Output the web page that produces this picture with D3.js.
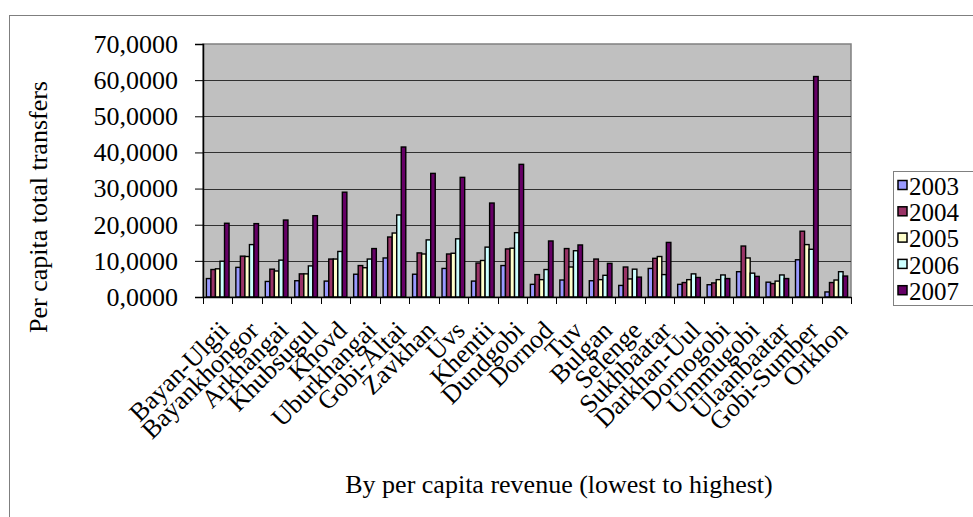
<!DOCTYPE html>
<html>
<head>
<meta charset="utf-8">
<script src="https://cdn.jsdelivr.net/npm/d3@7/dist/d3.min.js"></script>
<style>
  html, body { margin: 0; padding: 0; background: #fff; }
  svg { display: block; }
  text { font-family: "Liberation Serif", "Times New Roman", serif; fill: #000; }
</style>
</head>
<body>
<svg id="chart" width="973" height="517"></svg>
<script>
// Aimags ordered by per capita revenue, lowest to highest
const categories = ["Bayan-Ulgii", "Bayankhongor", "Arkhangai", "Khubsugul", "Khovd",
  "Uburkhangai", "Gobi-Altai", "Zavkhan", "Uvs", "Khentii", "Dundgobi", "Dornod", "Tuv",
  "Bulgan", "Selenge", "Sukhbaatar", "Darkhan-Uul", "Dornogobi", "Ummugobi", "Ulaanbaatar",
  "Gobi-Sumber", "Orkhon"];

const years = ["2003", "2004", "2005", "2006", "2007"];

// Per capita total transfers by year
const v2003 = [5.1, 8.2, 4.3, 4.5, 4.4, 6.3, 10.8, 6.3, 7.9, 4.4, 8.7, 3.5, 4.7, 4.5, 3.2, 7.9, 3.5, 3.4, 7.0, 4.1, 10.3, 1.4];
const v2004 = [7.6, 11.3, 7.7, 6.4, 10.5, 8.7, 16.6, 12.2, 11.9, 9.4, 13.3, 6.2, 13.4, 10.5, 8.3, 10.7, 4.0, 3.9, 14.1, 3.7, 18.2, 4.0];
const v2005 = [7.8, 11.2, 7.2, 6.4, 10.5, 8.1, 17.7, 11.9, 12.1, 10.1, 13.5, 4.8, 8.3, 4.8, 5.0, 11.2, 4.8, 4.8, 10.8, 4.4, 14.5, 4.7];
const v2006 = [9.9, 14.5, 10.2, 8.6, 12.6, 10.5, 22.7, 15.8, 16.1, 13.8, 17.8, 7.6, 12.8, 6.0, 7.7, 6.2, 6.4, 6.1, 6.6, 6.1, 13.2, 7.0];
const v2007 = [20.4, 20.3, 21.3, 22.5, 29.0, 13.4, 41.5, 34.2, 33.1, 26.0, 36.7, 15.5, 14.4, 9.3, 5.5, 15.1, 5.4, 5.1, 5.7, 5.1, 61.0, 5.8];

const yTicks = [0, 10, 20, 30, 40, 50, 60, 70];
const colors = ["#9999FF", "#993366", "#FFFFCC", "#CCFFFF", "#660066"];

const FONT = '"Liberation Serif", "Times New Roman", serif';

const seriesValues = [v2003, v2004, v2005, v2006, v2007];
const rows = categories.map((c, i) => ({
  name: c,
  values: years.map((y, j) => ({ year: y, value: seriesValues[j][i] }))
}));

const svg = d3.select("#chart");
const plot = { left: 203, right: 851, top: 44, bottom: 297 };

// outer chart frame (runs off the right and bottom edge)
svg.append("rect")
  .attr("x", 9.5).attr("y", 15.5)
  .attr("width", 1100).attr("height", 600)
  .attr("fill", "#fff").attr("stroke", "#7f7f7f").attr("stroke-width", 1);

const x0 = d3.scaleBand().domain(categories).range([plot.left, plot.right]).padding(0);
const bw = x0.bandwidth();
const gap = bw * 1.5 / 6.5;
const x1 = d3.scaleBand().domain(years).range([gap / 2, bw - gap / 2]).padding(0);
const y = d3.scaleLinear().domain([0, 70]).range([plot.bottom, plot.top]);

// plot area
svg.append("rect")
  .attr("x", plot.left).attr("y", plot.top)
  .attr("width", plot.right - plot.left).attr("height", plot.bottom - plot.top)
  .attr("fill", "#C0C0C0").attr("stroke", "#808080").attr("stroke-width", 1.5);

// gridlines
svg.append("g").selectAll("line")
  .data(yTicks.filter(t => t > 0 && t < 70))
  .join("line")
  .attr("x1", plot.left).attr("x2", plot.right)
  .attr("y1", d => Math.round(y(d)) + 0.5).attr("y2", d => Math.round(y(d)) + 0.5)
  .attr("stroke", "#303030").attr("stroke-width", 1);

// bars
const groups = svg.append("g").selectAll("g")
  .data(rows)
  .join("g")
  .attr("transform", d => `translate(${x0(d.name)},0)`);

groups.selectAll("rect")
  .data(d => d.values)
  .join("rect")
  .attr("x", d => x1(d.year))
  .attr("y", d => y(d.value))
  .attr("width", x1.bandwidth())
  .attr("height", d => y(0) - y(d.value))
  .attr("fill", (d, i) => colors[i])
  .attr("stroke", "#000")
  .attr("stroke-width", 1.4);

// y axis
const fmt = d3.format(".4f");
const yAxis = d3.axisLeft(y).tickValues(yTicks).tickSize(8).tickPadding(17)
  .tickFormat(d => fmt(d).replace(".", ","));
const gy = svg.append("g").attr("transform", `translate(${plot.left},0)`).call(yAxis)
  .attr("font-family", FONT);
gy.select(".domain").attr("stroke", "#000").attr("stroke-width", 1.5);
gy.selectAll(".tick line").attr("stroke", "#000").attr("stroke-width", 1);
gy.selectAll(".tick text")
  .attr("font-family", FONT)
  .style("font-family", FONT)
  .style("font-size", "26px").attr("fill", "#000");

// x axis with category boundary ticks
const xAxis = d3.axisBottom(x0).tickSize(0).tickFormat("");
const gx = svg.append("g").attr("transform", `translate(0,${plot.bottom})`).call(xAxis);
gx.select(".domain").attr("stroke", "#000").attr("stroke-width", 1.5);
svg.append("g").selectAll("line")
  .data(categories.map(c => x0(c)).concat([plot.right]))
  .join("line")
  .attr("x1", d => Math.round(d) + 0.5).attr("x2", d => Math.round(d) + 0.5)
  .attr("y1", plot.bottom).attr("y2", plot.bottom + 7)
  .attr("stroke", "#000").attr("stroke-width", 1);

// rotated category labels
svg.append("g").selectAll("text")
  .data(categories)
  .join("text")
  .attr("transform", d => `translate(${x0(d) + bw / 2 + 13},${plot.bottom + 35}) rotate(-45)`)
  .attr("text-anchor", "end")
  .attr("font-family", FONT)
  .style("font-size", "26px")
  .text(d => d);

// axis titles
svg.append("text")
  .attr("transform", "translate(47,207) rotate(-90)")
  .attr("text-anchor", "middle")
  .attr("font-family", FONT)
  .style("font-size", "26px")
  .text("Per capita total transfers");

svg.append("text")
  .attr("x", 559).attr("y", 493)
  .attr("text-anchor", "middle")
  .attr("font-family", FONT)
  .style("font-size", "26px")
  .text("By per capita revenue (lowest to highest)");

// legend
const lg = svg.append("g");
lg.append("rect")
  .attr("x", 893.5).attr("y", 171.5)
  .attr("width", 120).attr("height", 134)
  .attr("fill", "#fff").attr("stroke", "#808080").attr("stroke-width", 1);
const items = lg.selectAll("g.item")
  .data(years)
  .join("g")
  .attr("class", "item")
  .attr("transform", (d, i) => `translate(898,${186 + i * 26.3})`);
items.append("rect")
  .attr("x", 0).attr("y", -5.5)
  .attr("width", 9).attr("height", 9)
  .attr("fill", (d, i) => colors[i])
  .attr("stroke", "#000").attr("stroke-width", 1.5);
items.append("text")
  .attr("x", 11).attr("dy", "0.35em")
  .attr("font-family", FONT)
  .style("font-size", "25px")
  .text(d => d);
</script>
</body>
</html>
